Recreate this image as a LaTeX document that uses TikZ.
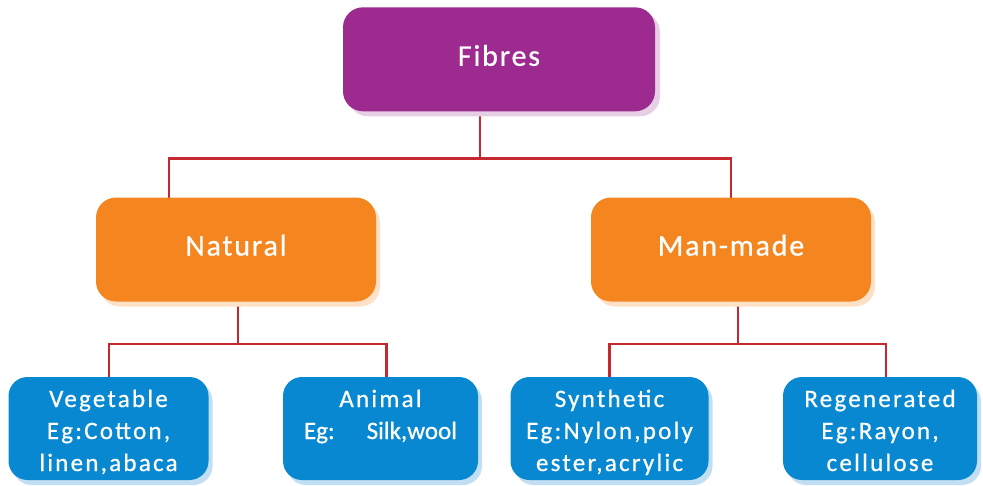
\documentclass[tikz,border=0pt]{standalone}
\usepackage{fontspec}
\setmainfont{Carlito}
\newfontfamily\topfont[LetterSpace=6,FakeBold=0.7]{Carlito}
\newfontfamily\botfont[LetterSpace=9,FakeBold=0.7]{Carlito}
\newfontfamily\plainfont[FakeBold=0.7]{Carlito}
\usetikzlibrary{shadows,backgrounds}
\definecolor{purpbox}{HTML}{9C2A8F}
\definecolor{purpsh}{HTML}{E6CEE4}
\definecolor{orbox}{HTML}{F5861F}
\definecolor{orsh}{HTML}{FDE0C6}
\definecolor{bluebox}{HTML}{0788D0}
\definecolor{bluesh}{HTML}{C2DEF2}
\definecolor{conncol}{HTML}{C5282F}
\newcommand{\firstln}{\rule{0pt}{25pt}}
\newcommand{\lastln}[1]{\rule[-#1pt]{0pt}{0pt}}
\tikzset{
  boxbase/.style={rounded corners=20pt, inner sep=0pt, outer sep=0pt, text=white, align=center},
  topbox/.style={boxbase, minimum height=104pt, font=\topfont\fontsize{30}{36}\selectfont,
     text height=21pt},
  botbox/.style={boxbase, rounded corners=19pt, minimum height=103pt, fill=bluebox,
     font=\botfont\fontsize{25}{32}\selectfont,
     drop shadow={shadow xshift=4pt, shadow yshift=-5pt, fill=bluesh, opacity=1}},
  conn/.style={draw=conncol, line width=2.5pt}
}
\begin{document}
\begin{tikzpicture}[x=1pt,y=-1pt]
\useasboundingbox (0,0) rectangle (983,485);
\node[topbox, fill=purpbox, minimum width=312pt, text depth=8pt,
  drop shadow={shadow xshift=5pt, shadow yshift=-5pt, fill=purpsh, opacity=1}]
  (fib) at (499,59.3) {Fibres};
\node[topbox, fill=orbox, minimum width=280pt, text depth=9pt,
  drop shadow={shadow xshift=4pt, shadow yshift=-5pt, fill=orsh, opacity=1}]
  (nat) at (236,249.5) {Natural};
\node[topbox, fill=orbox, minimum width=280pt, text depth=9pt,
  drop shadow={shadow xshift=4pt, shadow yshift=-5pt, fill=orsh, opacity=1}]
  (man) at (731,249.5) {Man-made};
\node[botbox, minimum width=200pt] (veg) at (108.5,428.5)
  {\firstln Vegetable\\Eg:Cotton,\\linen,abaca\lastln{4}};
\node[botbox, minimum width=195pt] (ani) at (380.5,428.5)
  {\firstln Animal\\{\plainfont Eg:\hspace{32pt}Silk,wool}\lastln{36}};
\node[botbox, minimum width=198pt] (syn) at (609.5,428.5)
  {\firstln Synthetic\\Eg:Nylon,poly\\ester,acrylic\lastln{4}};
\node[botbox, minimum width=194pt] (reg) at (880,428.5)
  {\firstln Regenerated\\Eg:Rayon,\\cellulose\lastln{4}};
\coordinate (j1) at (480,158.7);
\coordinate (j2) at (238,344);
\coordinate (j3) at (738,344);
\begin{scope}[on background layer]
\draw[conn] ([xshift=-19pt]fib.south) -- (j1);
\draw[conn] ([xshift=-67pt]nat.north) |- (j1) -| (man.north);
\draw[conn] ([xshift=2pt]nat.south) -- (j2);
\draw[conn] ([xshift=0.5pt]veg.north) |- (j2) -| ([xshift=6pt]ani.north);
\draw[conn] ([xshift=7pt]man.south) -- (j3);
\draw[conn] (syn.north) |- (j3) -| ([xshift=6pt]reg.north);
\end{scope}
\end{tikzpicture}
\end{document}
